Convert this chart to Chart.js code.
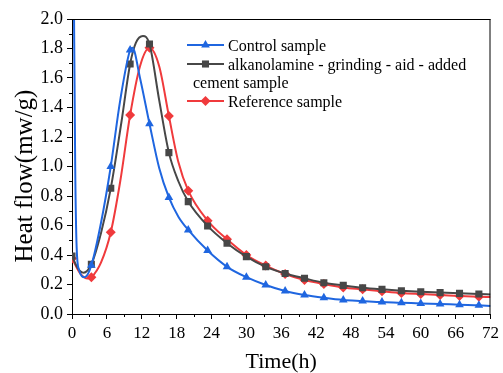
<!DOCTYPE html>
<html>
<head>
<meta charset="utf-8">
<script src="https://cdn.jsdelivr.net/npm/chart.js@4/dist/chart.umd.min.js"></script>
<style>
body{margin:0;background:#fff}
canvas{display:block}
</style>
</head>
<body>
<canvas id="heat" width="503" height="373"></canvas>
<script>
// times (h) where the symbols sit
var markTimes = [0, 3.33, 6.67, 10, 13.33, 16.67, 20, 23.33, 26.67, 30, 33.33, 36.67,
                 40, 43.33, 46.67, 50, 53.33, 56.67, 60, 63.33, 66.67, 70];

// Control sample
var ctrlTime = [0.3, 0.55, 0.8, 1.2, 2.2, 3.33, 5, 6.67, 8.3, 10, 10.4, 11.7, 13.33, 15, 16.67, 18.3,
                20, 23.33, 26.67, 30, 33.33, 36.67, 40, 43.33, 46.67, 50, 53.33, 56.67, 60, 63.33, 66.67, 70, 72];
var ctrlFlow = [2.3, 1.0, 0.45, 0.3, 0.25, 0.33, 0.62, 1.0, 1.45, 1.79, 1.805, 1.6, 1.29, 0.99, 0.79, 0.66,
                0.57, 0.43, 0.32, 0.25, 0.197, 0.156, 0.129, 0.11, 0.095, 0.088, 0.081, 0.077, 0.072, 0.068, 0.063, 0.059, 0.055];

// alkanolamine - grinding - aid - added cement sample
var alkTime = [0, 1, 2, 3.33, 5, 6.67, 8.5, 10, 11, 12.2, 13.33, 15, 16.67, 18.3,
               20, 23.33, 26.67, 30, 33.33, 36.67, 40, 43.33, 46.67, 50, 53.33, 56.67, 60, 63.33, 66.67, 70, 72];
var alkFlow = [0.393, 0.31, 0.28, 0.337, 0.55, 0.852, 1.3, 1.695, 1.84, 1.885, 1.83, 1.45, 1.094, 0.9,
               0.762, 0.597, 0.48, 0.389, 0.32, 0.275, 0.242, 0.212, 0.194, 0.178, 0.167, 0.158, 0.151, 0.145, 0.14, 0.135, 0.133];

// Reference sample
var refTime = [0, 1.5, 2.7, 3.33, 5, 6.67, 8.3, 10, 11.7, 13.33, 15, 16.67, 18.3,
               20, 23.33, 26.67, 30, 33.33, 36.67, 40, 43.33, 46.67, 50, 53.33, 56.67, 60, 63.33, 66.67, 70, 72];
var refFlow = [0.377, 0.27, 0.24, 0.249, 0.35, 0.554, 0.9, 1.349, 1.68, 1.805, 1.68, 1.342, 1.03,
               0.836, 0.633, 0.506, 0.40, 0.328, 0.271, 0.23, 0.203, 0.18, 0.167, 0.154, 0.142, 0.135, 0.129, 0.122, 0.117, 0.115];

var xTicks = [0, 6, 12, 18, 24, 30, 36, 42, 48, 54, 60, 66, 72];
var yTicks = [0.0, 0.2, 0.4, 0.6, 0.8, 1.0, 1.2, 1.4, 1.6, 1.8, 2.0];

var BLUE = "#1f66e0", GREY = "#474747", RED = "#f03a3c";
var FONT = "'Liberation Serif', 'Times New Roman', serif";

function pts(t, v) {
    return t.map(function(x, i) { return {x: x, y: v[i]}; });
}
function isMark(x) {
    return markTimes.some(function(t) { return Math.abs(t - x) < 0.01; });
}
function series(label, t, v, color, style, order) {
    return {
        label: label,
        data: pts(t, v),
        borderColor: color,
        backgroundColor: color,
        borderWidth: 2,
        pointStyle: style,
        pointBorderWidth: 0,
        pointRadius: function(c) { return isMark(c.raw.x) ? 5 : 0; },
        cubicInterpolationMode: 'monotone',
        order: order
    };
}

// same shapes as chart.js point styles, for the legend
function drawMark(ctx, style, x, y, r) {
    ctx.beginPath();
    if (style == 'triangle') {
        var a = 0;
        ctx.moveTo(x + Math.sin(a) * r, y - Math.cos(a) * r);
        a += Math.PI * 2 / 3;
        ctx.lineTo(x + Math.sin(a) * r, y - Math.cos(a) * r);
        a += Math.PI * 2 / 3;
        ctx.lineTo(x + Math.sin(a) * r, y - Math.cos(a) * r);
    } else if (style == 'rect') {
        var s = Math.SQRT1_2 * r;
        ctx.rect(x - s, y - s, 2 * s, 2 * s);
    } else {
        ctx.moveTo(x, y - r); ctx.lineTo(x + r, y); ctx.lineTo(x, y + r); ctx.lineTo(x - r, y);
    }
    ctx.closePath();
    ctx.fill();
}

var extras = {
    id: 'extras',
    afterDraw: function(chart) {
        var ctx = chart.ctx, a = chart.chartArea;
        var xs = chart.scales.x, ys = chart.scales.y;
        ctx.save();
        ctx.strokeStyle = "#000";
        ctx.lineWidth = 1;
        // top and right frame
        ctx.beginPath();
        ctx.moveTo(a.left, a.top + 0.5); ctx.lineTo(a.right, a.top + 0.5);
        ctx.moveTo(a.right - 0.5, a.top); ctx.lineTo(a.right - 0.5, a.bottom);
        // minor ticks
        for (var h = 3; h < 72; h += 6) {
            var px = Math.round(xs.getPixelForValue(h)) + 0.5;
            ctx.moveTo(px, a.bottom); ctx.lineTo(px, a.bottom + 3);
        }
        for (var k = 1; k < 20; k += 2) {
            var py = Math.round(ys.getPixelForValue(k / 10)) + 0.5;
            ctx.moveTo(a.left, py); ctx.lineTo(a.left - 3, py);
        }
        ctx.stroke();

        // axis titles
        ctx.fillStyle = "#000";
        ctx.textAlign = "center";
        ctx.textBaseline = "alphabetic";
        ctx.font = "22px " + FONT;
        ctx.fillText("Time(h)", (a.left + a.right) / 2, 368);
        ctx.save();
        ctx.translate(31.5, 176);
        ctx.rotate(-Math.PI / 2);
        ctx.font = "25px " + FONT;
        ctx.fillText("Heat flow(mw/g)", 0, 0);
        ctx.restore();

        // legend
        var rows = [
            {color: BLUE, style: 'triangle', y: 45, text: ["Control sample"]},
            {color: GREY, style: 'rect', y: 64, text: ["alkanolamine - grinding - aid - added", "cement sample"]},
            {color: RED, style: 'rectRot', y: 101, text: ["Reference sample"]}
        ];
        ctx.font = "16px " + FONT;
        ctx.textAlign = "left";
        rows.forEach(function(r) {
            ctx.strokeStyle = r.color;
            ctx.fillStyle = r.color;
            ctx.lineWidth = 2;
            ctx.beginPath();
            ctx.moveTo(187, r.y); ctx.lineTo(224, r.y);
            ctx.stroke();
            drawMark(ctx, r.style, 205.5, r.y, 5);
            ctx.fillStyle = "#000";
            ctx.fillText(r.text[0], 228, r.y + 6);
            if (r.text[1]) ctx.fillText(r.text[1], 193, r.y + 24);
        });
        ctx.restore();
    }
};

new Chart(document.getElementById("heat"), {
    type: 'line',
    data: {
        datasets: [
            series("Control sample", ctrlTime, ctrlFlow, BLUE, 'triangle', 0),
            series("alkanolamine - grinding - aid - added cement sample", alkTime, alkFlow, GREY, 'rect', 1),
            series("Reference sample", refTime, refFlow, RED, 'rectRot', 2)
        ]
    },
    options: {
        responsive: false,
        devicePixelRatio: 1,
        animation: false,
        events: [],
        layout: {padding: {top: 19, right: 12, left: 0, bottom: 0}},
        plugins: {legend: {display: false}, tooltip: {enabled: false}},
        scales: {
            x: {
                type: 'linear',
                min: 0, max: 72,
                afterBuildTicks: function(s) { s.ticks = xTicks.map(function(v) { return {value: v}; }); },
                afterFit: function(s) { s.height = 59; },
                ticks: {color: "#000", font: {family: FONT, size: 17}, padding: 4, maxRotation: 0,
                        callback: function(v) { return v; }},
                grid: {drawOnChartArea: false, drawTicks: true, tickLength: 5, tickColor: "#000"},
                border: {display: true, color: "#000", width: 1}
            },
            y: {
                min: 0, max: 2,
                afterBuildTicks: function(s) { s.ticks = yTicks.map(function(v) { return {value: v}; }); },
                afterFit: function(s) { s.width = 72; },
                ticks: {color: "#000", font: {family: FONT, size: 18}, padding: 4,
                        callback: function(v) { return v.toFixed(1); }},
                grid: {drawOnChartArea: false, drawTicks: true, tickLength: 5, tickColor: "#000"},
                border: {display: true, color: "#000", width: 1}
            }
        }
    },
    plugins: [extras]
});
</script>
</body>
</html>
